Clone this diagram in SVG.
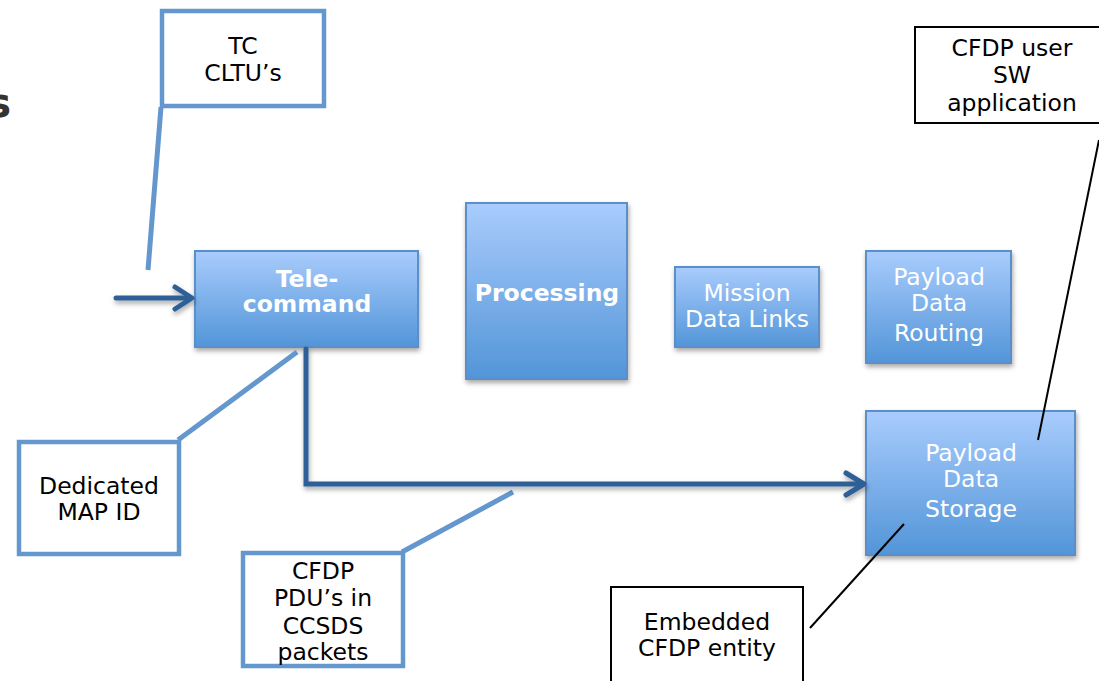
<svg xmlns="http://www.w3.org/2000/svg" width="1099" height="681" viewBox="0 0 1099 681">
<style>
.node{stroke:#5b8ec9;stroke-width:2;fill:url(#g)}
.nt{font-family:"DejaVu Sans",Verdana,sans-serif;font-size:23.5px;fill:#ffffff;text-anchor:middle}
.b{font-weight:bold}
.ann{fill:#ffffff;stroke:#6497cd;stroke-width:4.5}
.annk{fill:#ffffff;stroke:#000000;stroke-width:2}
.at{font-family:"DejaVu Sans",Verdana,sans-serif;font-size:23.5px;fill:#000000;text-anchor:middle}
.lb{fill:none;stroke:#6497cd;stroke-width:5}
.lk{fill:none;stroke:#000000;stroke-width:2}
.dk{fill:none;stroke:#2f6197;stroke-width:5;stroke-linecap:round;stroke-linejoin:miter}
.ah{fill:none;stroke:#2f6197;stroke-width:5;stroke-linecap:round;stroke-linejoin:round}
</style>
<defs>
<linearGradient id="g" x1="0" y1="0" x2="0" y2="1">
<stop offset="0" stop-color="#a9ccfd"/>
<stop offset="1" stop-color="#5295d8"/>
</linearGradient>
<filter id="sh" x="-10%" y="-10%" width="125%" height="130%">
<feDropShadow dx="1" dy="3" stdDeviation="2.5" flood-color="#000000" flood-opacity="0.35"/>
</filter>
</defs>
<text x="11" y="117" font-family="DejaVu Sans,Verdana,sans-serif" font-size="40" font-weight="bold" fill="#333333" text-anchor="end">s</text>
<g id="tc-cltu">
<rect class="ann" x="162" y="11" width="162" height="95"/>
<text class="at" x="243" y="54">TC</text>
<text class="at" x="243" y="81">CLTU’s</text>
</g>
<g id="telecommand">
<rect class="node" x="195" y="251" width="223" height="96" filter="url(#sh)"/>
<text class="nt b" x="307" y="287">Tele-</text>
<text class="nt b" x="307" y="312">command</text>
</g>
<g id="processing">
<rect class="node" x="466" y="203" width="161" height="176" filter="url(#sh)"/>
<text class="nt b" x="547" y="301">Processing</text>
</g>
<g id="mission-data-links">
<rect class="node" x="675" y="267" width="144" height="80" filter="url(#sh)"/>
<text class="nt" x="747" y="301">Mission</text>
<text class="nt" x="747" y="327">Data Links</text>
</g>
<g id="payload-data-routing">
<rect class="node" x="866" y="251" width="145" height="112" filter="url(#sh)"/>
<text class="nt" x="939" y="285">Payload</text>
<text class="nt" x="939" y="311">Data</text>
<text class="nt" x="939" y="341">Routing</text>
</g>
<g id="payload-data-storage">
<rect class="node" x="866" y="411" width="209" height="144" filter="url(#sh)"/>
<text class="nt" x="971" y="461">Payload</text>
<text class="nt" x="971" y="487">Data</text>
<text class="nt" x="971" y="517">Storage</text>
</g>
<g id="dedicated-map-id">
<rect class="ann" x="19" y="442" width="160" height="112"/>
<text class="at" x="99" y="494">Dedicated</text>
<text class="at" x="99" y="520">MAP ID</text>
</g>
<g id="cfdp-pdus">
<rect class="ann" x="243" y="553" width="160" height="113"/>
<text class="at" x="323" y="579">CFDP</text>
<text class="at" x="323" y="606">PDU’s in</text>
<text class="at" x="323" y="634">CCSDS</text>
<text class="at" x="323" y="660">packets</text>
</g>
<g id="embedded-cfdp-entity">
<rect class="annk" x="611" y="587" width="192" height="100"/>
<text class="at" x="707" y="630">Embedded</text>
<text class="at" x="707" y="656">CFDP entity</text>
</g>
<g id="cfdp-user-sw">
<rect class="annk" x="915" y="27" width="190" height="96"/>
<text class="at" x="1012" y="56">CFDP user</text>
<text class="at" x="1012" y="83">SW</text>
<text class="at" x="1012" y="111">application</text>
</g>
<g id="connectors">
<line class="lb" x1="161" y1="107" x2="148" y2="270"/>
<line class="lb" x1="178" y1="440" x2="297" y2="352"/>
<line class="lb" x1="402" y1="552" x2="513" y2="492"/>
<line class="lk" x1="810" y1="628" x2="904" y2="524"/>
<line class="lk" x1="1099" y1="140" x2="1038" y2="440"/>
<g filter="url(#sh)">
<line class="dk" x1="116" y1="298" x2="190" y2="298"/>
<polyline class="ah" points="175,287 192,298 175,309"/>
<polyline class="dk" points="306,349 306,484 863,484"/>
<polyline class="ah" points="846,473 864,484 846,495"/>
</g>
</g>
</svg>
